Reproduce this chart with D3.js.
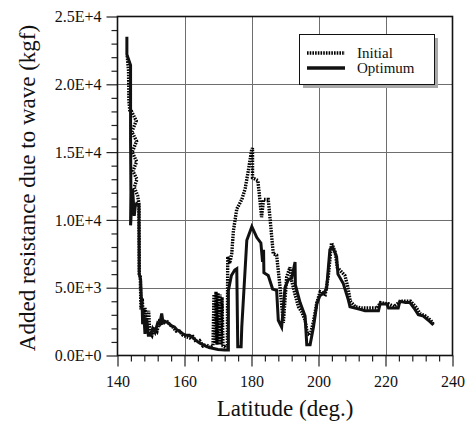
<!DOCTYPE html>
<html>
<head>
<meta charset="utf-8">
<script src="https://cdn.jsdelivr.net/npm/d3@7/dist/d3.min.js"></script>
<style>
  html, body { margin: 0; padding: 0; background: #fff; }
  svg { display: block; }
  text { font-family: "Liberation Serif", "Times New Roman", serif; fill: #111; }
</style>
</head>
<body>
<svg id="chart" width="469" height="427"></svg>
<script>
// Latitude (deg.) and added resistance (kgf) along the route, optimum hull
const latOptimum = [142.8,142.8,143.9,143.9,144.0,143.9,144.5,145.0,145.3,145.7,146.4,146.5,146.9,147.1,147.4,147.5,147.9,148.2,148.7,149.2,149.9,150.5,151.2,152.0,152.6,153.2,153.6,154.3,155.2,156.0,157.0,157.7,158.5,159.5,160.3,161.5,162.6,163.5,164.6,165.5,166.6,168.0,170.0,172.0,173.1,173.1,174.0,175.0,175.6,175.9,176.9,177.1,178.6,180.1,181.6,182.8,183.3,183.6,183.7,185.0,186.3,187.5,188.0,189.0,190.0,191.0,192.0,193.0,193.1,194.5,196.0,196.5,197.5,198.5,199.5,200.4,201.5,202.4,203.4,204.2,205.4,205.8,207.4,208.9,209.4,210.9,212.4,213.9,216.0,217.9,218.4,220.4,220.9,223.8,224.3,226.0,227.3,228.5,229.8,231.3,232.8,234.3];
const optimum = [23500,22200,21400,16000,12000,9600,12300,10300,11000,11200,11100,6000,5600,4300,3300,2300,2900,1600,2700,1500,1500,2000,1700,2400,2300,3100,2400,2500,2400,2200,2100,1900,1800,1600,1500,1500,1300,1100,900,800,650,550,450,400,400,4800,5900,6300,6400,650,650,2100,8500,9500,8700,8300,6900,7800,6100,5900,4900,4800,2600,2100,5000,5600,5700,6900,5200,3900,2900,800,800,2100,3800,4400,4600,4900,7800,8000,7300,6000,5300,4100,3600,3500,3400,3300,3300,3300,3800,3800,3500,3500,4000,3900,3900,3500,3000,2900,2600,2250];

// Same route, initial hull
const latInitial = [142.9,143.3,143.4,143.7,144.2,145.6,144.3,145.7,144.4,145.7,144.6,145.8,145.0,146.0,146.4,146.5,146.8,147.0,147.4,147.7,148.2,148.7,149.3,149.6,150.3,151.0,151.8,152.5,153.5,154.5,155.5,156.5,157.5,158.5,159.5,160.5,161.5,162.5,163.5,164.5,165.5,166.5,167.5,168.5,168.8,169.1,169.4,169.7,170.0,170.3,170.6,170.9,171.2,171.5,172.3,172.8,172.9,173.5,174.1,174.6,175.6,177.1,178.1,179.1,180.0,180.3,180.3,181.9,182.5,183.0,183.6,185.0,185.5,186.5,187.5,188.5,189.5,190.5,191.5,192.0,193.0,194.0,195.0,196.0,196.7,197.5,198.5,199.5,200.5,202.0,202.9,203.9,205.0,205.6,207.9,208.7,209.5,211.0,213.0,215.0,217.5,218.5,221.0,222.5,224.5,227.5,229.0,230.3,232.0,233.5,234.3];
const initial = [22100,21000,18800,18000,18000,17300,16500,15800,15000,14300,13600,13000,12400,11800,11200,6000,5800,3400,4200,2600,3500,2500,3300,1800,1500,2100,1800,2500,2300,2600,2300,2100,1800,1800,1500,1400,1300,1400,1000,1100,700,800,600,700,4500,900,4700,800,4600,800,4500,800,4300,700,600,600,7300,6800,7500,9200,10800,11500,12300,13700,15100,15300,13100,12900,11500,10200,11500,11500,10200,7500,7400,5100,2400,5800,6500,5500,4500,3600,3200,2600,1600,1500,2500,3900,4700,4500,5800,8300,7600,6500,5900,5100,4000,3600,3500,3500,3500,3900,3800,3600,4000,4000,3600,3100,2900,2600,2300];

// Axis ticks
const xTicks = [140, 160, 180, 200, 220, 240];
const yTicks = [0, 5000, 10000, 15000, 20000, 25000];
const yTickLabels = ["0.0E+0", "5.0E+3", "1.0E+4", "1.5E+4", "2.0E+4", "2.5E+4"];
const seriesNames = ["Initial", "Optimum"];

const svg = d3.select("#chart");
const plotLeft = 117.5, plotRight = 452.5, plotTop = 16.5, plotBottom = 355.5;

const x = d3.scaleLinear().domain([140, 240]).range([plotLeft, plotRight]);
const y = d3.scaleLinear().domain([0, 25000]).range([plotBottom, plotTop]);

// Grid
const grid = svg.append("g").attr("stroke", "#6e6e6e").attr("stroke-width", 1);
grid.selectAll("line.gx").data(xTicks.slice(1, -1)).join("line")
  .attr("x1", d => Math.round(x(d)) + 0.5).attr("x2", d => Math.round(x(d)) + 0.5)
  .attr("y1", plotTop).attr("y2", plotBottom);
grid.selectAll("line.gy").data(yTicks.slice(1, -1)).join("line")
  .attr("y1", d => Math.round(y(d)) + 0.5).attr("y2", d => Math.round(y(d)) + 0.5)
  .attr("x1", plotLeft).attr("x2", plotRight);

// Minor ticks
const xMinor = d3.range(140, 240.01, 4).filter(v => !xTicks.includes(v));
const yMinor = d3.range(0, 25001, 1000).filter(v => !yTicks.includes(v));
svg.append("g").attr("transform", `translate(0,${plotBottom})`)
  .call(d3.axisBottom(x).tickValues(xMinor).tickSize(6).tickFormat(""))
  .call(g => g.select(".domain").remove())
  .call(g => g.selectAll("line").attr("stroke", "#222").attr("stroke-width", 1.2));
svg.append("g").attr("transform", `translate(${plotLeft},0)`)
  .call(d3.axisLeft(y).tickValues(yMinor).tickSize(6).tickFormat(""))
  .call(g => g.select(".domain").remove())
  .call(g => g.selectAll("line").attr("stroke", "#222").attr("stroke-width", 1.2));

// Major axes
svg.append("g").attr("transform", `translate(0,${plotBottom})`)
  .call(d3.axisBottom(x).tickValues(xTicks).tickSize(11).tickPadding(9).tickFormat(d3.format("d")))
  .call(g => g.select(".domain").remove())
  .call(g => g.selectAll("line").attr("stroke", "#222").attr("stroke-width", 1.2))
  .call(g => g.selectAll("text").attr("font-size", 16).attr("font-family", "Liberation Serif").attr("fill", "#111"));
svg.append("g").attr("transform", `translate(${plotLeft},0)`)
  .call(d3.axisLeft(y).tickValues(yTicks).tickSize(11).tickPadding(5).tickFormat((d, i) => yTickLabels[i]))
  .call(g => g.select(".domain").remove())
  .call(g => g.selectAll("line").attr("stroke", "#222").attr("stroke-width", 1.2))
  .call(g => g.selectAll("text").attr("font-size", 16).attr("font-family", "Liberation Serif").attr("fill", "#111"));

// Series
const line = d3.line().x(d => x(d[0])).y(d => y(d[1]));
const initialPts = latInitial.map((v, i) => [v, initial[i]]);
const optimumPts = latOptimum.map((v, i) => [v, optimum[i]]);

svg.append("path").datum(initialPts).attr("d", line)
  .attr("fill", "none").attr("stroke", "#000").attr("stroke-width", 3.4)
  .attr("stroke-dasharray", "1.6,1.1").attr("stroke-linejoin", "miter");
svg.append("path").datum(optimumPts).attr("d", line)
  .attr("fill", "none").attr("stroke", "#111").attr("stroke-width", 3)
  .attr("stroke-linejoin", "miter");

// Frame
svg.append("rect").attr("x", plotLeft).attr("y", plotTop)
  .attr("width", plotRight - plotLeft).attr("height", plotBottom - plotTop)
  .attr("fill", "none").attr("stroke", "#111").attr("stroke-width", 1.6);

// Legend
const lg = svg.append("g").attr("transform", "translate(299,34)");
lg.append("rect").attr("x", 4).attr("y", 4).attr("width", 135).attr("height", 50).attr("fill", "#a8a8a8");
lg.append("rect").attr("x", 0.5).attr("y", 0.5).attr("width", 135).attr("height", 50)
  .attr("fill", "#fff").attr("stroke", "#111").attr("stroke-width", 1);
lg.append("line").attr("x1", 8).attr("x2", 46).attr("y1", 19).attr("y2", 19)
  .attr("stroke", "#000").attr("stroke-width", 3.4).attr("stroke-dasharray", "1.6,1.1");
lg.append("line").attr("x1", 8).attr("x2", 46).attr("y1", 34).attr("y2", 34)
  .attr("stroke", "#111").attr("stroke-width", 3.5);
lg.selectAll("text").data(seriesNames).join("text")
  .attr("x", 58).attr("y", (d, i) => 24 + i * 15)
  .attr("font-size", 15).text(d => d);

// Axis titles
svg.append("text").attr("x", (plotLeft + plotRight) / 2).attr("y", 416)
  .attr("text-anchor", "middle").attr("font-size", 23).text("Latitude (deg.)");
svg.append("text").attr("transform", `translate(27,${(plotTop + plotBottom) / 2 + 2}) rotate(-90)`)
  .attr("text-anchor", "middle").attr("dominant-baseline", "central")
  .attr("font-size", 23).text("Added resistance due to wave (kgf)");
</script>
</body>
</html>
